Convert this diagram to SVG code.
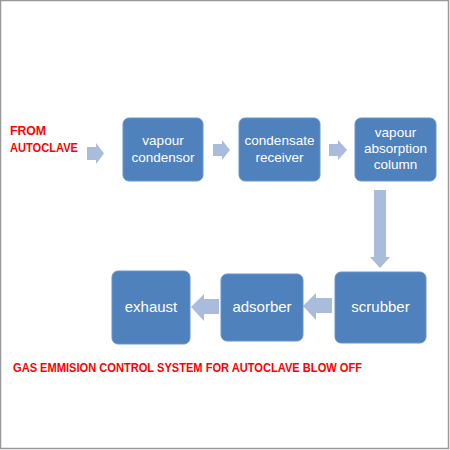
<svg xmlns="http://www.w3.org/2000/svg" width="450" height="450" viewBox="0 0 450 450">
<style>
.box{fill:#4F81BD;stroke:#6A93C8;stroke-width:1}
.arr{fill:#A9BCDC}
.bt{fill:#fff;font-family:"Liberation Sans",Arial,sans-serif;font-size:13.5px;text-anchor:middle}
.bt2{fill:#fff;font-family:"Liberation Sans",Arial,sans-serif;font-size:15px;text-anchor:middle}
.red{fill:#FF0000;font-family:"Liberation Sans",Arial,sans-serif;font-weight:bold;font-size:12.5px}
</style>
<rect x="0" y="0" width="450" height="450" fill="#fff"/>
<rect x="0.5" y="0.5" width="448" height="448" fill="none" stroke="#999" stroke-width="1.5"/>
<text class="red" x="10" y="135" textLength="36" lengthAdjust="spacingAndGlyphs">FROM</text>
<text class="red" x="10" y="152" textLength="68" lengthAdjust="spacingAndGlyphs">AUTOCLAVE</text>
<g id="connectors">
<polygon class="arr" points="87,147 96,147 96,143 104,153.5 96,164 96,160 87,160"/>
<polygon class="arr" points="213,144 222,144 222,140 230,150 222,160 222,156 213,156"/>
<polygon class="arr" points="329,144 338,144 338,140 347,150 338,160 338,156 329,156"/>
<polygon class="arr" points="374,190 386,190 386,257 390,257 380,268 370,257 374,257"/>
<polygon class="arr" points="332,298 316,298 316,293 303,306 316,320 316,313 332,313"/>
<polygon class="arr" points="219,299 204,299 204,294 191,307 204,321 204,314 219,314"/>
</g>
<g id="vapour-condensor">
<rect class="box" x="123" y="118" width="80" height="63" rx="6"/>
<text class="bt" x="163" y="145">vapour</text>
<text class="bt" x="163" y="162">condensor</text>
</g>
<g id="condensate-receiver">
<rect class="box" x="239" y="118" width="81" height="63" rx="6"/>
<text class="bt" x="279.5" y="145">condensate</text>
<text class="bt" x="279.5" y="162">receiver</text>
</g>
<g id="vapour-absorption-column">
<rect class="box" x="355" y="118" width="81" height="63" rx="6"/>
<text class="bt" x="395.5" y="137">vapour</text>
<text class="bt" x="395.5" y="153">absorption</text>
<text class="bt" x="395.5" y="169">column</text>
</g>
<g id="scrubber">
<rect class="box" x="335" y="272" width="91" height="71" rx="6"/>
<text class="bt2" x="380.5" y="312">scrubber</text>
</g>
<g id="adsorber">
<rect class="box" x="221" y="274" width="82" height="67" rx="6"/>
<text class="bt2" x="262" y="312">adsorber</text>
</g>
<g id="exhaust">
<rect class="box" x="112" y="271" width="78" height="73" rx="6"/>
<text class="bt2" x="151" y="312">exhaust</text>
</g>
<text class="red" x="13" y="372" textLength="349" lengthAdjust="spacingAndGlyphs">GAS EMMISION CONTROL SYSTEM FOR AUTOCLAVE BLOW OFF</text>
</svg>
